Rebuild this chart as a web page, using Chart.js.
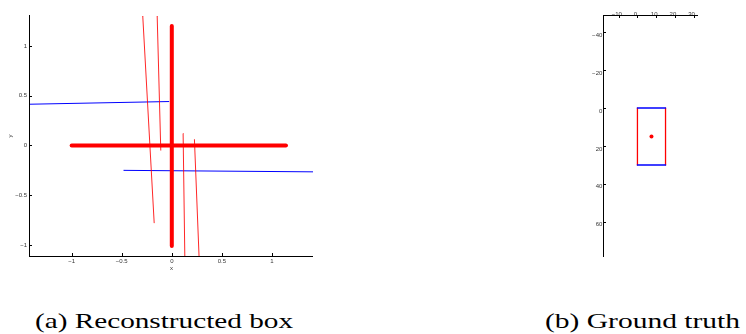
<!DOCTYPE html>
<html>
<head>
<meta charset="utf-8">
<script src="https://cdn.jsdelivr.net/npm/chart.js@4.4.0/dist/chart.umd.min.js"></script>
<style>
  html, body { margin: 0; padding: 0; background: #fff; }
  #wrap { position: relative; width: 746px; height: 334px; overflow: hidden; }
  #wrap canvas { position: absolute; top: 0; }
  .cap { position: absolute; top: 311px; font-family: "Liberation Serif", serif; font-size: 21px;
         line-height: 1; white-space: nowrap; transform-origin: 0 0; color: #000; }
</style>
</head>
<body>
<div id="wrap">
  <canvas id="recon" width="330" height="290" style="left:0"></canvas>
  <canvas id="truth" width="186" height="290" style="left:560px"></canvas>
  <div class="cap" data-w="258" style="left:35px">(a) Reconstructed box</div>
  <div class="cap" data-w="195" style="left:545px">(b) Ground truth</div>
</div>
<script>
// (a) reconstructed box -- segments are [x0, y0, x1, y1]
const reconRangeX = [-1.416, 1.41]
const reconRangeY = [-1.11, 1.30]
const reconTicks = [-1, -0.5, 0, 0.5, 1]
const thickRed = [[-1, 0, 1.14, 0], [0, 1.2, 0, -1.01]]
const thinRed = [
  [-0.29, 1.30, -0.176, -0.776],
  [-0.146, 1.30, -0.11, -0.047],
  [0.113, 0.12, 0.13, -1.11],
  [0.226, 0.06, 0.272, -1.11]
]
const blueLines = [[-1.42, 0.414, -0.03, 0.441], [-0.48, -0.25, 1.42, -0.265]]

// (b) ground truth
const truthRangeX = [-17.7, 32.5]
const truthRangeY = [-48.6, 78.1]
const truthTicksX = [-10, 0, 10, 20, 30]
const truthTicksY = [-40, -20, 0, 20, 40, 60]
const boxBlue = [[0, 0, 15, 0], [0, 30, 15, 30]]
const boxRed = [[0, 0, 0, 30], [15, 0, 15, 30]]
const boxCentre = [7.5, 15]

const tickFont = { family: 'Liberation Sans', size: 6 }

function seg(s, color, width) {
  return {
    data: [{ x: s[0], y: s[1] }, { x: s[2], y: s[3] }],
    showLine: true,
    borderColor: color,
    borderWidth: width,
    borderCapStyle: 'round',
    pointRadius: 0
  }
}

const fmt = v => String(v).replace('-', '\u2212')

// matlab style axis lines, ticks pointing into the axes
const matlabAxes = {
  id: 'matlabAxes',
  afterDraw(chart) {
    const ctx = chart.ctx
    const a = chart.chartArea
    const L = Math.round(a.left) - 1
    const R = Math.round(a.right)
    const T = Math.round(a.top) - 1
    const B = Math.round(a.bottom)
    ctx.save()
    ctx.fillStyle = '#000'
    Object.values(chart.scales).forEach(sc => {
      if (sc.position === 'left') ctx.fillRect(L, T, 1, B - T + 1)
      if (sc.position === 'bottom') ctx.fillRect(L, B, R - L, 1)
      if (sc.position === 'top') ctx.fillRect(L, T, R - L, 1)
      sc.ticks.forEach(t => {
        const p = Math.round(sc.getPixelForValue(t.value))
        if (sc.position === 'left') ctx.fillRect(L, p, 3, 1)
        if (sc.position === 'bottom') ctx.fillRect(p, B - 3, 1, 3)
        if (sc.position === 'top') ctx.fillRect(p, T, 1, 3)
      })
    })
    ctx.restore()
  }
}

function axis(pos, range, ticks, size, tickOpts, extra) {
  return Object.assign({
    type: 'linear',
    position: pos,
    min: range[0],
    max: range[1],
    grid: { display: false, drawTicks: false },
    border: { display: false },
    ticks: Object.assign({ font: tickFont, color: '#333', callback: fmt }, tickOpts),
    afterBuildTicks: sc => { sc.ticks = ticks.map(v => ({ value: v })) },
    afterFit: sc => {
      if (pos === 'left') sc.width = size
      else sc.height = size
    }
  }, extra || {})
}

const axisTitle = t => ({ display: true, text: t, font: { family: 'Liberation Sans', size: 6 }, color: '#333', padding: 0 })

const baseOpts = {
  responsive: false,
  animation: false,
  events: [],
  plugins: { legend: { display: false }, tooltip: { enabled: false } }
}

const reconData = [].concat(
  thickRed.map(s => seg(s, '#ff0000', 4)),
  thinRed.map(s => seg(s, 'rgba(255,0,0,0.85)', 1)),
  blueLines.map(s => seg(s, '#0000ff', 1))
)

new Chart(document.getElementById('recon'), {
  type: 'scatter',
  data: { datasets: reconData },
  options: Object.assign({}, baseOpts, {
    layout: { padding: { left: 7, right: 17, top: 16, bottom: 18 } },
    scales: {
      x: axis('bottom', reconRangeX, reconTicks, 16, { padding: 2 }, { title: axisTitle('x') }),
      y: axis('left', reconRangeY, reconTicks, 23, { padding: 3 }, { title: axisTitle('y') })
    }
  }),
  plugins: [matlabAxes]
})

const truthData = [].concat(
  boxBlue.map(s => seg(s, '#0000ff', 1.5)),
  boxRed.map(s => seg(s, '#ff0000', 1.3)),
  [{ data: [{ x: boxCentre[0], y: boxCentre[1] }], pointRadius: 2, pointBackgroundColor: '#ff0000', pointBorderWidth: 0 }]
)

new Chart(document.getElementById('truth'), {
  type: 'scatter',
  data: { datasets: truthData },
  options: Object.assign({}, baseOpts, {
    layout: { padding: { left: 30, right: 47.7, top: 0, bottom: 34 } },
    scales: {
      x: axis('top', truthRangeX, truthTicksX, 16, { padding: -2, labelOffset: -2 }),
      y: axis('left', truthRangeY, truthTicksY, 14.3, { padding: 2, labelOffset: 3 }, { reverse: true })
    }
  }),
  plugins: [matlabAxes]
})

// stretch the captions to the widths seen in the figure
document.querySelectorAll('.cap').forEach(el => {
  const w = el.getBoundingClientRect().width
  el.style.transform = 'scaleX(' + (Number(el.dataset.w) / w) + ')'
})
</script>
</body>
</html>
